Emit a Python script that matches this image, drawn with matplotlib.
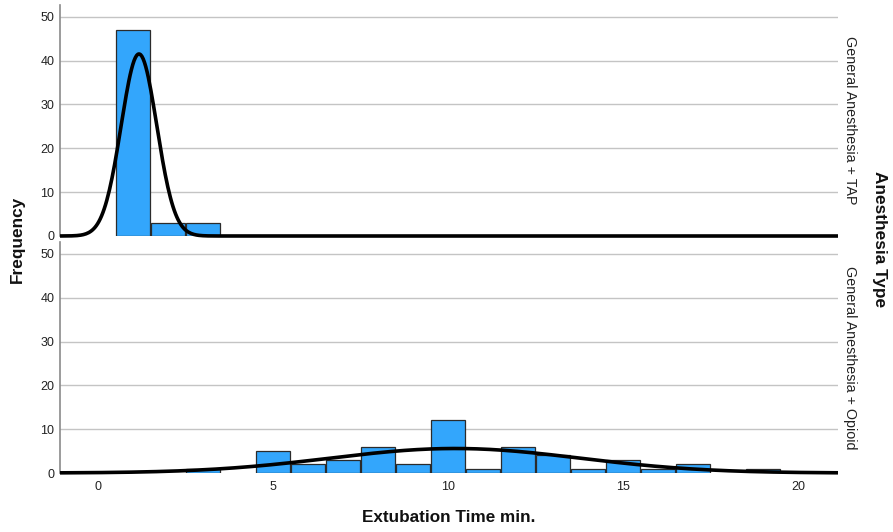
import numpy as np
import matplotlib
matplotlib.use("Agg")
import matplotlib.pyplot as plt

plt.rcParams['font.family'] = ['Liberation Sans', 'DejaVu Sans']

# Data (bin centres in minutes, counts)
groups = ["General Anesthesia + TAP", "General Anesthesia + Opioid"]
tap_bins = [1, 2, 3]
tap_counts = [47, 3, 3]
opioid_bins = [3, 5, 6, 7, 8, 9, 10, 11, 12, 13, 14, 15, 16, 17, 19]
opioid_counts = [1, 5, 2, 3, 6, 2, 12, 1, 6, 4, 1, 3, 1, 2, 1]
x_ticks = [0, 5, 10, 15, 20]
y_ticks = [0, 10, 20, 30, 40, 50]

xlim = (-1.086, 21.14)
ylim = (0, 52.7)

fig = plt.figure(figsize=(8.93, 5.32), dpi=100)
ax_top = fig.add_axes([0.0672, 0.5564, 0.8712, 0.4342])
ax_bot = fig.add_axes([0.0672, 0.1109, 0.8712, 0.4342])

bar_color = '#33a6fc'
edge_color = '#2b2b2b'

def normal_curve(bins, counts):
    x = np.repeat(np.array(bins, float), counts)
    mu = x.mean()
    sd = x.std(ddof=1)
    xs = np.linspace(xlim[0], xlim[1], 600)
    ys = len(x) * 1.0 / (sd * np.sqrt(2 * np.pi)) * np.exp(-0.5 * ((xs - mu) / sd) ** 2)
    return xs, ys

for ax, bins, counts, label in [(ax_top, tap_bins, tap_counts, groups[0]),
                                (ax_bot, opioid_bins, opioid_counts, groups[1])]:
    ax.set_xlim(*xlim)
    ax.set_ylim(*ylim)
    ax.set_yticks(y_ticks)
    for yv in y_ticks[1:]:
        ax.axhline(yv, color='#c4c4c4', lw=1.0, zorder=0)
    ax.bar(bins, counts, width=0.95, color=bar_color, edgecolor=edge_color,
           linewidth=0.9, zorder=2)
    xs, ys = normal_curve(bins, counts)
    ax.plot(xs, ys, color='black', lw=2.6, zorder=3, clip_on=False,
            solid_capstyle='butt')
    for s in ['top', 'right', 'bottom']:
        ax.spines[s].set_visible(False)
    ax.spines['left'].set_color('#8a8a8a')
    ax.spines['left'].set_linewidth(1.2)
    ax.tick_params(axis='y', length=0, labelsize=9, colors='#222222', pad=4)
    ax.text(1.016, 0.5, label, transform=ax.transAxes, rotation=-90,
            ha='center', va='center', fontsize=10.3, color='#222222')

ax_top.set_xticks([])
ax_bot.set_xticks(x_ticks)
ax_bot.tick_params(axis='x', length=0, labelsize=9, colors='#222222', pad=6)

fig.text(0.020, 0.55, 'Frequency', rotation=90, ha='center', va='center',
         fontsize=12.4, fontweight='bold', color='#111111')
fig.text(0.985, 0.55, 'Anesthesia Type', rotation=-90, ha='center', va='center',
         fontsize=12.4, fontweight='bold', color='#111111')
fig.text(0.503, 0.028, 'Extubation Time min.', ha='center', va='center',
         fontsize=12.3, fontweight='bold', color='#111111')

fig.savefig('out.png', dpi=100)
